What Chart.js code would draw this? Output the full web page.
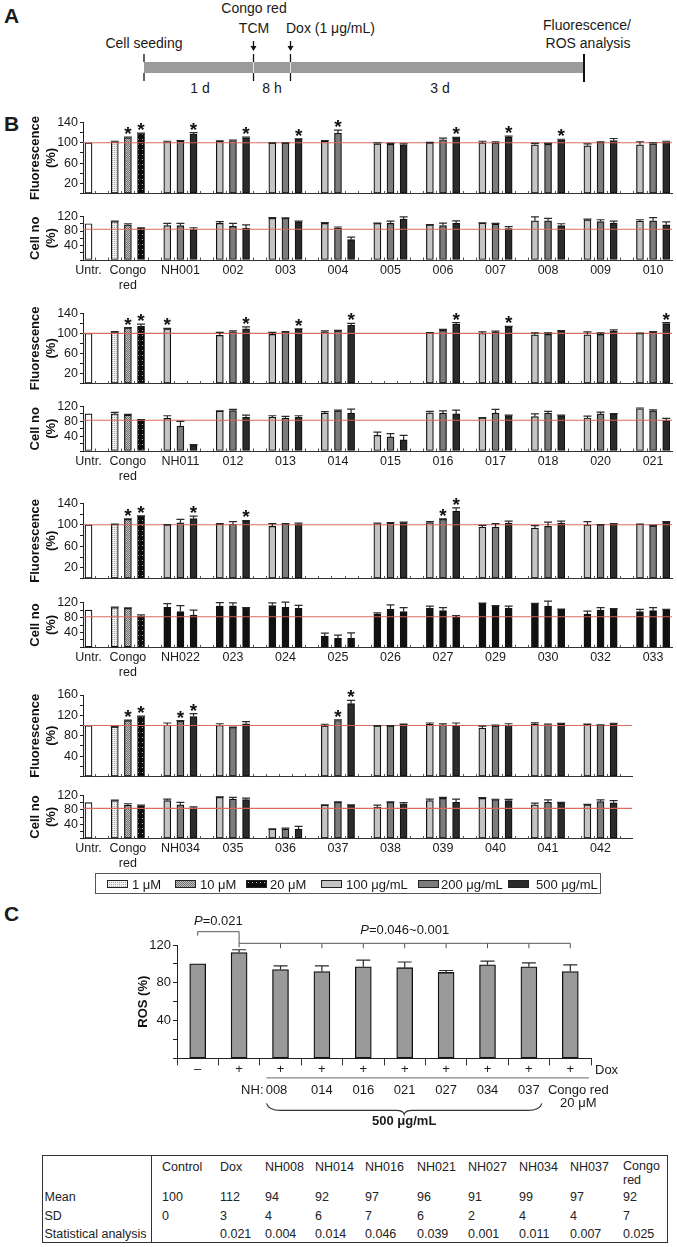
<!DOCTYPE html>
<html><head><meta charset="utf-8">
<script src="https://cdn.jsdelivr.net/npm/chart.js@4.4.1/dist/chart.umd.min.js"></script>
<style>
html,body{margin:0;padding:0;background:#fff;}
#page{position:relative;width:677px;height:1247px;overflow:hidden;font-family:"Liberation Sans",Arial,Helvetica,sans-serif;color:#1a1a1a;}
.t{position:absolute;white-space:nowrap;line-height:1;}
.cv{position:absolute;left:0;}
.sw{position:absolute;}
</style></head><body><div id="page">
<svg width="677" height="100" style="position:absolute;left:0;top:0" font-family="Liberation Sans, Arial, sans-serif" fill="#1a1a1a">
<text x="4" y="23" font-size="21" font-weight="bold">A</text>
<text x="254" y="13" font-size="14" text-anchor="middle">Congo red</text>
<text x="254" y="33" font-size="14" text-anchor="middle">TCM</text>
<text x="286" y="33" font-size="14">Dox (1 μg/mL)</text>
<text x="144" y="48" font-size="14" text-anchor="middle">Cell seeding</text>
<text x="587" y="30" font-size="14" text-anchor="middle">Fluorescence/</text>
<text x="588" y="48" font-size="14" text-anchor="middle">ROS analysis</text>
<rect x="144" y="62" width="440" height="11" fill="#9b9b9b"/>
<line x1="253.5" y1="62" x2="253.5" y2="73" stroke="#e6e6e6" stroke-width="1"/>
<line x1="290.5" y1="62" x2="290.5" y2="73" stroke="#e6e6e6" stroke-width="1"/>
<g stroke="#111" stroke-width="1.3">
<line x1="144" y1="54" x2="144" y2="62"/><line x1="144" y1="73" x2="144" y2="81"/>
<line x1="253.5" y1="54" x2="253.5" y2="62"/><line x1="253.5" y1="73" x2="253.5" y2="81"/>
<line x1="290.5" y1="54" x2="290.5" y2="62"/><line x1="290.5" y1="73" x2="290.5" y2="81"/>
<line x1="253.5" y1="41" x2="253.5" y2="47"/><line x1="290.5" y1="41" x2="290.5" y2="47"/>
</g>
<line x1="584" y1="54" x2="584" y2="82" stroke="#111" stroke-width="2"/>
<path d="M250.5 46 L256.5 46 L253.5 51 Z M287.5 46 L293.5 46 L290.5 51 Z" fill="#111"/>
<text x="200" y="93" font-size="14" text-anchor="middle">1 d</text>
<text x="272" y="93" font-size="14" text-anchor="middle">8 h</text>
<text x="440" y="93" font-size="14" text-anchor="middle">3 d</text>
</svg>
<div class="t" style="left:4px;top:113px;font-size:21px;font-weight:bold;">B</div>
<div class="t" style="left:4px;top:903px;font-size:21px;font-weight:bold;">C</div>
</div>
<script>
// ================= DATA =================
const CONGO_TAGS = ['1', '10', '20'];
const NH_TAGS = ['100', '200', '500'];
const LEGEND_LABELS = ['1 μM', '10 μM', '20 μM', '100 μg/mL', '200 μg/mL', '500 μg/mL'];

// ---- Block 1 ----
const B1_COMPOUNDS = ['NH001', '002', '003', '004', '005', '006', '007', '008', '009', '010'];
const B1_FL_UNTR = 100;
const B1_FL_CONGO = [102, 110, 118];
const B1_FL_CONGO_SD = [1, 1, 1];
const B1_FL_100 = [102, 103, 99.5, 103, 98, 100, 100, 96, 94, 96];
const B1_FL_100_SD = [1, 1, 0.5, 1.5, 2, 1, 3, 3, 4, 6];
const B1_FL_200 = [103.5, 104.5, 99.5, 119, 97, 106, 100, 97, 101, 98];
const B1_FL_200_SD = [1, 1, 0.5, 6, 2, 3, 2, 2, 1, 2];
const B1_FL_500 = [117, 110, 107, null, 96, 109.5, 111, 106, 104.5, 102];
const B1_FL_500_SD = [3, 1, 1, null, 2, 1, 2, 1, 4, 1];
const B1_FL_STARS = ['Congo red@10', 'Congo red@20', 'NH001@500', '002@500', '003@500', '004@200', '006@500', '007@500', '008@500'];
const B1_CN_UNTR = 100;
const B1_CN_CONGO = [106, 97, 88];
const B1_CN_CONGO_SD = [1, 3, 1];
const B1_CN_100 = [95, 101, 115, 101, 101, 97, 102, 108, 111, 107];
const B1_CN_100_SD = [6, 5, 2, 2, 1, 0.5, 0.5, 11, 2, 4];
const B1_CN_200 = [95, 93, 115, 88, 101, 95, 99, 108, 106, 108];
const B1_CN_200_SD = [6, 8, 1, 3, 6, 7, 2, 7, 5, 9];
const B1_CN_500 = [84, 88, 105, 56, 113, 101, 87, 95, 102, 97];
const B1_CN_500_SD = [5, 9, 2, 7, 6, 7, 5, 5, 5, 8];
const B1_CN_REF = 85;

// ---- Block 2 ----
const B2_COMPOUNDS = ['NH011', '012', '013', '014', '015', '016', '017', '018', '020', '021'];
const B2_FL_UNTR = 100;
const B2_FL_CONGO = [103, 111, 114];
const B2_FL_CONGO_SD = [0.5, 0.5, 4.5];
const B2_FL_100 = [109, 96, 98, 103, null, 101, 100, 97, 97, 100];
const B2_FL_100_SD = [1, 6, 4, 2, null, 0.5, 3, 4, 6, 0.5];
const B2_FL_200 = [null, 103, 103, 105, null, 106, 102, 98, 98, 102];
const B2_FL_200_SD = [null, 2, 0.5, 1, null, 2, 2.5, 3, 3, 1.5];
const B2_FL_500 = [null, 109, 108, 116, null, 118, 113, 104, 104, 119.5];
const B2_FL_500_SD = [null, 4, 1, 4, null, 3.5, 1, 1.5, 3, 2];
const B2_FL_STARS = ['Congo red@10', 'Congo red@20', 'NH011@100', '012@500', '013@500', '014@500', '016@500', '017@500', '021@500'];
const B2_CN_UNTR = 100;
const B2_CN_CONGO = [100, 97, 84];
const B2_CN_CONGO_SD = [4, 2, 1];
const B2_CN_100 = [88, 107.5, 91, 102, 42, 103, 89, 93, 89, 114];
const B2_CN_100_SD = [7, 1, 4, 4, 9, 4, 1, 7, 5, 2];
const B2_CN_200 = [67, 109, 88.5, 108, 38, 102, 102, 102, 100, 108];
const B2_CN_200_SD = [13, 3, 5, 2, 9, 6, 10, 5, 5, 3];
const B2_CN_500 = [15, 91, 91, 102, 30, 100, 95.5, 95.5, 100, 82];
const B2_CN_500_SD = [2, 6, 4, 11, 12, 10, 1, 1, 1, 6];
const B2_CN_REF = 83;

// ---- Block 3 ----
const B3_COMPOUNDS = ['NH022', '023', '024', '025', '026', '027', '029', '030', '032', '033'];
const B3_FL_UNTR = 100;
const B3_FL_CONGO = [101, 110, 116];
const B3_FL_CONGO_SD = [0.5, 1, 0.5];
const B3_FL_100 = [100, 101, 97, null, 102, 104, 95.5, 94, 100, 101];
const B3_FL_100_SD = [0.5, 1, 5, null, 1, 2, 3.5, 4.5, 6, 0.5];
const B3_FL_200 = [103.5, 101, 101, null, 103, 110, 95.5, 97, 100, 98];
const B3_FL_200_SD = [6.5, 5, 1, null, 1, 1, 6.5, 8, 0.5, 1];
const B3_FL_500 = [111.5, 107, 101, null, 104, 125.5, 103, 103, 101, 105];
const B3_FL_500_SD = [4.5, 1, 2, null, 1, 6, 4, 4, 1, 1];
const B3_FL_STARS = ['Congo red@10', 'Congo red@20', 'NH022@500', '023@500', '027@200', '027@500'];
const B3_CN_UNTR = 100;
const B3_CN_CONGO = [107, 105, 84];
const B3_CN_CONGO_SD = [1, 1, 3.5];
const B3_CN_100 = [107.5, 111, 112.5, 30, 89.5, 105, 118, 116, 89.5, 96];
const B3_CN_100_SD = [10, 9, 7, 8, 3, 6, 1, 2, 8, 6];
const B3_CN_200 = [96, 111.5, 107.5, 24, 102, 99, 111, 111, 100, 98.5];
const B3_CN_200_SD = [16, 8, 14, 9, 12, 8, 1, 13, 7, 8];
const B3_CN_500 = [87, 105, 105, 24, 96, 80.6, 105, 102, 102, 100];
const B3_CN_500_SD = [13, 2, 8, 15, 11, 5, 6, 1, 2, 2];
const B3_CN_REF = 82;

// ---- Block 4 ----
const B4_COMPOUNDS = ['NH034', '035', '036', '037', '038', '039', '040', '041', '042'];
const B4_FL_UNTR = 100;
const B4_FL_CONGO = [97.6, 109.6, 117.6];
const B4_FL_CONGO_SD = [0.5, 1, 1];
const B4_FL_100 = [101, 100.6, null, 99.6, 99.5, 102.4, 95, 102.4, 102.4];
const B4_FL_100_SD = [4, 3, null, 3, 0.5, 2.6, 4, 3, 0.5];
const B4_FL_200 = [108.5, 96.4, null, 110, 99.5, 101, 99.6, 101, 101];
const B4_FL_200_SD = [1, 0.5, null, 1, 0.5, 2.5, 1.5, 2, 0.5];
const B4_FL_500 = [117.6, 103.6, null, 143, 102.4, 100.6, 100.6, 102.4, 104];
const B4_FL_500_SD = [6, 4, null, 6.5, 0.5, 4.4, 3, 2, 0.5];
const B4_FL_STARS = ['Congo red@10', 'Congo red@20', 'NH034@200', 'NH034@500', '037@200', '037@500'];
const B4_CN_UNTR = 100;
const B4_CN_CONGO = [106, 93, 91];
const B4_CN_CONGO_SD = [1, 4, 2];
const B4_CN_100 = [106, 115, 26, 93, 88, 106, 112, 94, 94];
const B4_CN_100_SD = [4, 1, 1, 1, 5, 4, 2, 5, 1];
const B4_CN_200 = [94, 110, 26, 101, 101, 112, 108.5, 101, 103];
const B4_CN_200_SD = [7, 5, 3, 1, 1, 3, 1, 7, 5];
const B4_CN_500 = [85.5, 108.5, 26, 93, 97, 101, 106, 99.6, 99.6];
const B4_CN_500_SD = [3, 4, 8, 1, 3, 9, 3, 1, 6];
const B4_CN_REF = 84;

// ---- Panel C ----
const ROS_GROUPS = ['Control', 'Dox', 'NH008', 'NH014', 'NH016', 'NH021', 'NH027', 'NH034', 'NH037', 'Congo red'];
const ROS_DOX = ['–', '+', '+', '+', '+', '+', '+', '+', '+', '+'];
const ROS_NH = ['', '', '008', '014', '016', '021', '027', '034', '037', ''];
const ROS_MEAN = [100, 112, 94, 92, 97, 96, 91, 99, 97, 92];
const ROS_SD = [0, 3, 4, 6, 7, 6, 2, 4, 4, 7];
const ROS_P = ['', '0.021', '0.004', '0.014', '0.046', '0.039', '0.001', '0.011', '0.007', '0.025'];
const ROS_Y_TICKS = [0, 20, 40, 60, 80, 100, 120];
const ROS_Y_LABELS = [40, 80, 120];

// ================= LAYOUT =================
const page = document.getElementById('page');
const FONT = '"Liberation Sans", Arial, sans-serif';
Chart.defaults.font.family = FONT;
Chart.defaults.font.size = 12.5;
Chart.defaults.color = '#1a1a1a';
Chart.defaults.animation = false;

function makePattern(kind) {
  const c = document.createElement('canvas');
  const g = c.getContext('2d');
  if (kind === 0) {
    c.width = 2; c.height = 2;
    g.fillStyle = '#f2f2f2'; g.fillRect(0, 0, 2, 2);
    g.fillStyle = '#a8a8a8'; g.fillRect(0, 0, 1, 1);
  } else if (kind === 1) {
    c.width = 2; c.height = 2;
    g.fillStyle = '#6e6e6e'; g.fillRect(0, 0, 2, 2);
    g.fillStyle = '#c4c4c4'; g.fillRect(0, 0, 1, 1); g.fillRect(1, 1, 1, 1);
  } else {
    c.width = 4; c.height = 5;
    g.fillStyle = '#0c0c0c'; g.fillRect(0, 0, 4, 5);
    g.fillStyle = '#bdbdbd'; g.fillRect(2, 2, 1, 1);
  }
  return g.createPattern(c, 'repeat');
}
const PATTERNS = [makePattern(0), makePattern(1), makePattern(2)];
const NH_COLORS = ['#c4c4c4', '#7c7c7c', '#2b2b2b'];
const NH_COLORS_BLACK = ['#111111', '#111111', '#111111'];

const annot = {
  id: 'annot',
  afterDatasetsDraw(chart, args, o) {
    const { ctx, chartArea: ca, scales } = chart;
    const x = scales.x, y = scales.y;
    ctx.save();
    if (o.slotTicks) {
      ctx.strokeStyle = '#555'; ctx.lineWidth = 1;
      for (let s = 0.5; s < x.max; s += 1) {
        const px = Math.round(x.getPixelForValue(s)) + 0.5;
        ctx.beginPath(); ctx.moveTo(px, ca.bottom); ctx.lineTo(px, ca.bottom - 2.5); ctx.stroke();
      }
    }
    if (o.refLine != null) {
      const py = y.getPixelForValue(o.refLine);
      ctx.strokeStyle = 'rgba(216,100,88,0.95)'; ctx.lineWidth = 1.1;
      ctx.beginPath(); ctx.moveTo(ca.left, py); ctx.lineTo(ca.right, py); ctx.stroke();
    }
    chart.data.datasets.forEach((ds, di) => {
      const meta = chart.getDatasetMeta(di);
      meta.data.forEach((el, i) => {
        const raw = ds.data[i];
        const v = (raw !== null && typeof raw === 'object') ? raw.y : raw;
        if (v == null) return;
        const sd = ds.sd ? (ds.sd[i] || 0) : 0;
        const top = y.getPixelForValue(v + sd);
        const cx = el.x;
        const cap = o.capHalf || 4;
        if (sd > 0) {
          ctx.strokeStyle = '#2a2a2a'; ctx.lineWidth = 1.2;
          ctx.beginPath(); ctx.moveTo(cx, el.y); ctx.lineTo(cx, top);
          ctx.moveTo(cx - cap, top); ctx.lineTo(cx + cap, top); ctx.stroke();
        }
        if (ds.stars && ds.stars[i]) {
          ctx.fillStyle = '#111';
          ctx.font = 'bold 19px ' + FONT;
          ctx.textAlign = 'center'; ctx.textBaseline = 'alphabetic';
          const m = ctx.measureText('*');
          const d = -m.actualBoundingBoxDescent;
          ctx.fillText('*', cx, top - 3 + d);
        }
      });
    });
    ctx.restore();
  }
};
Chart.register(annot);

function addCanvas(top, h) {
  const cv = document.createElement('canvas');
  cv.className = 'cv';
  cv.width = 677; cv.height = h;
  cv.style.top = top + 'px'; cv.style.width = '677px'; cv.style.height = h + 'px';
  page.appendChild(cv);
  return cv;
}

function makeSets(untr, congo, congoSd, vals, sds, stars, colors, compounds) {
  const has = (g, t) => stars.includes(g + '@' + t);
  const sets = [{ data: [{ x: 0, y: untr }], sd: [0], stars: [false], backgroundColor: '#ffffff' }];
  congo.forEach((v, k) => sets.push({
    data: [{ x: 2 + k, y: v }], sd: [congoSd[k]], stars: [has('Congo red', CONGO_TAGS[k])], backgroundColor: PATTERNS[k]
  }));
  for (let k = 0; k < 3; k++) {
    sets.push({
      data: compounds.map((c, i) => ({ x: 4 * (i + 2) - 2 + k, y: vals[k][i] })),
      sd: sds[k], stars: compounds.map(c => has(c, NH_TAGS[k])), backgroundColor: colors[k]
    });
  }
  return sets;
}

function blockChart(opt) {
  const canvasTop = Math.floor(opt.plotTop - opt.padTop);
  const padTop = opt.plotTop - canvasTop;
  const plotH = opt.plotBot - opt.plotTop;
  const canvasH = Math.ceil(padTop + plotH + opt.below);
  const xH = canvasH - padTop - plotH - opt.padBottom;
  const cv = addCanvas(canvasTop, canvasH);
  const centers = [0, 3].concat(opt.compounds.map((c, i) => 4 * (i + 2) - 1));
  const labels = ['Untr.', ['Congo', 'red']].concat(opt.compounds);
  return new Chart(cv, {
    type: 'bar',
    data: { datasets: opt.datasets },
    options: {
      responsive: false, devicePixelRatio: 1, animation: false,
      layout: { padding: { top: padTop, left: 0, right: 677 - opt.right, bottom: opt.padBottom } },
      plugins: { legend: { display: false }, tooltip: { enabled: false }, annot: { refLine: opt.ref, slotTicks: true, capHalf: 4 } },
      datasets: { bar: { barThickness: 7, grouped: false, borderWidth: 1.2, borderColor: '#111', borderSkipped: false } },
      scales: {
        x: {
          type: 'linear', min: -0.42, max: opt.xMax, offset: false, bounds: 'data',
          grid: { display: false, drawTicks: false, offset: false },
          border: { display: true, color: '#333', width: 1 },
          ticks: {
            display: opt.showLabels, autoSkip: false, maxRotation: 0, minRotation: 0, padding: 3,
            font: { size: 12.5 }, color: '#1a1a1a',
            callback: (v, i) => labels[i]
          },
          afterBuildTicks: s => { s.ticks = centers.map(v => ({ value: v })); },
          afterFit: s => { s.height = xH; s.paddingLeft = 0; s.paddingRight = 0; }
        },
        y: {
          min: 0, max: opt.yMax,
          grid: { display: true, drawOnChartArea: false, drawTicks: true, tickLength: 3, color: '#222' },
          border: { display: true, color: '#222', width: 1 },
          ticks: {
            autoSkip: false, padding: 2, font: { size: 12.5 }, color: '#1a1a1a',
            callback: v => (opt.yLabels.includes(v) ? String(v) : '')
          },
          afterBuildTicks: s => { s.ticks = opt.yTicks.map(v => ({ value: v })); },
          title: { display: true, text: opt.title, font: { size: 13, weight: 'bold' }, color: '#111', padding: { top: 27.7, bottom: 0 } },
          afterFit: s => { s.width = 83; }
        }
      }
    }
  });
}

const BLOCKS = [
  { comp: B1_COMPOUNDS, fTop: 122.5, fBot: 200, fMax: 140, cTop: 216, cBot: 260, xMax: 44.44, right: 672,
    fl: [B1_FL_UNTR, B1_FL_CONGO, B1_FL_CONGO_SD, [B1_FL_100, B1_FL_200, B1_FL_500], [B1_FL_100_SD, B1_FL_200_SD, B1_FL_500_SD], B1_FL_STARS],
    cn: [B1_CN_UNTR, B1_CN_CONGO, B1_CN_CONGO_SD, [B1_CN_100, B1_CN_200, B1_CN_500], [B1_CN_100_SD, B1_CN_200_SD, B1_CN_500_SD], []],
    cref: B1_CN_REF, cnColors: NH_COLORS },
  { comp: B2_COMPOUNDS, fTop: 313.3, fBot: 389.5, fMax: 140, cTop: 406.5, cBot: 451, xMax: 44.44, right: 672,
    fl: [B2_FL_UNTR, B2_FL_CONGO, B2_FL_CONGO_SD, [B2_FL_100, B2_FL_200, B2_FL_500], [B2_FL_100_SD, B2_FL_200_SD, B2_FL_500_SD], B2_FL_STARS],
    cn: [B2_CN_UNTR, B2_CN_CONGO, B2_CN_CONGO_SD, [B2_CN_100, B2_CN_200, B2_CN_500], [B2_CN_100_SD, B2_CN_200_SD, B2_CN_500_SD], []],
    cref: B2_CN_REF, cnColors: NH_COLORS },
  { comp: B3_COMPOUNDS, fTop: 503.3, fBot: 585, fMax: 140, cTop: 602.7, cBot: 647.3, xMax: 44.44, right: 672,
    fl: [B3_FL_UNTR, B3_FL_CONGO, B3_FL_CONGO_SD, [B3_FL_100, B3_FL_200, B3_FL_500], [B3_FL_100_SD, B3_FL_200_SD, B3_FL_500_SD], B3_FL_STARS],
    cn: [B3_CN_UNTR, B3_CN_CONGO, B3_CN_CONGO_SD, [B3_CN_100, B3_CN_200, B3_CN_500], [B3_CN_100_SD, B3_CN_200_SD, B3_CN_500_SD], []],
    cref: B3_CN_REF, cnColors: NH_COLORS_BLACK },
  { comp: B4_COMPOUNDS, fTop: 695, fBot: 783, fMax: 160, cTop: 795, cBot: 838.5, xMax: 41.4, right: 632,
    fl: [B4_FL_UNTR, B4_FL_CONGO, B4_FL_CONGO_SD, [B4_FL_100, B4_FL_200, B4_FL_500], [B4_FL_100_SD, B4_FL_200_SD, B4_FL_500_SD], B4_FL_STARS],
    cn: [B4_CN_UNTR, B4_CN_CONGO, B4_CN_CONGO_SD, [B4_CN_100, B4_CN_200, B4_CN_500], [B4_CN_100_SD, B4_CN_200_SD, B4_CN_500_SD], []],
    cref: B4_CN_REF, cnColors: NH_COLORS }
];

BLOCKS.forEach(b => {
  const fMax = b.fMax;
  const fTicks = []; for (let v = 0; v <= fMax; v += 20) fTicks.push(v);
  const fLabels = fMax === 160 ? [40, 80, 120, 160] : [20, 60, 100, 140];
  blockChart({
    plotTop: b.fTop, plotBot: b.fBot, padTop: 20, padBottom: 2, below: 3, right: b.right, xMax: b.xMax,
    yMax: fMax, yTicks: fTicks, yLabels: fLabels, title: ['Fluorescence', '(%)'], compounds: b.comp,
    showLabels: false, ref: 100,
    datasets: makeSets(b.fl[0], b.fl[1], b.fl[2], b.fl[3], b.fl[4], b.fl[5], NH_COLORS, b.comp)
  });
  blockChart({
    plotTop: b.cTop, plotBot: b.cBot, padTop: 9, padBottom: 0, below: 36, right: b.right, xMax: b.xMax,
    yMax: 120, yTicks: [0, 20, 40, 60, 80, 100, 120], yLabels: [40, 80, 120], title: ['Cell no', '(%)'], compounds: b.comp,
    showLabels: true, ref: b.cref,
    datasets: makeSets(b.cn[0], b.cn[1], b.cn[2], b.cn[3], b.cn[4], b.cn[5], b.cnColors, b.comp)
  });
});

// ---- Legend ----
(function () {
  const box = document.createElement('div');
  box.style.cssText = 'position:absolute;left:94.5px;top:873px;width:506px;height:21px;border:1px solid #555;box-sizing:border-box;';
  page.appendChild(box);
  const swX = [107, 175, 246, 321, 418, 508];
  const txX = [132, 200, 270, 346, 441, 536];
  LEGEND_LABELS.forEach((lab, i) => {
    const c = document.createElement('canvas');
    c.width = 21; c.height = 8; c.className = 'sw';
    c.style.left = swX[i] + 'px'; c.style.top = '879.5px';
    const g = c.getContext('2d');
    g.fillStyle = i < 3 ? PATTERNS[i] : NH_COLORS[i - 3];
    g.fillRect(0, 0, 21, 8);
    g.strokeStyle = '#222'; g.lineWidth = 1; g.strokeRect(0.5, 0.5, 20, 7);
    page.appendChild(c);
    const t = document.createElement('div');
    t.className = 't'; t.textContent = lab;
    t.style.cssText += 'left:' + txX[i] + 'px;top:877.5px;font-size:13px;';
    page.appendChild(t);
  });
})();

// ---- Panel C ----
const rosExtras = {
  id: 'rosExtras',
  afterDraw(chart) {
    const { ctx, chartArea: ca, scales: { x } } = chart;
    const cx = i => x.getPixelForValue(i);
    const last = ROS_GROUPS.length - 1;
    ctx.save();
    ctx.fillStyle = '#1a1a1a'; ctx.strokeStyle = '#333'; ctx.lineWidth = 1;
    ctx.font = '13px ' + FONT; ctx.textBaseline = 'middle'; ctx.textAlign = 'center';
    ROS_DOX.forEach((s, i) => ctx.fillText(s, cx(i), ca.bottom + 11));
    ctx.textAlign = 'left'; ctx.fillText('Dox', 595, ca.bottom + 12);
    // line under the "+" row
    ctx.strokeStyle = '#666'; ctx.lineWidth = 1;
    ctx.beginPath(); ctx.moveTo(cx(2) - 14, ca.bottom + 19.5); ctx.lineTo(ca.right - 2, ca.bottom + 19.5); ctx.stroke();
    ctx.textAlign = 'center';
    ROS_NH.forEach((s, i) => { if (s) ctx.fillText(s, cx(i) - (i === 2 ? 4 : 0), ca.bottom + 32); });
    ctx.textAlign = 'right'; ctx.fillText('NH:', cx(2) - 17, ca.bottom + 32);
    ctx.textAlign = 'center';
    ctx.fillText('Congo red', cx(last) + 8, ca.bottom + 32);
    ctx.fillText('20 μM', cx(last) + 8, ca.bottom + 45);
    // brace
    const x0 = cx(2) - 14, x1 = cx(8) + 13, xm = (x0 + x1) / 2, yb = ca.bottom + 45;
    ctx.strokeStyle = '#333'; ctx.lineWidth = 1.1;
    ctx.beginPath();
    ctx.moveTo(x0, yb);
    ctx.quadraticCurveTo(x0 + 2, yb + 7, x0 + 14, yb + 7);
    ctx.lineTo(xm - 8, yb + 7);
    ctx.quadraticCurveTo(xm - 1, yb + 7, xm, yb + 11);
    ctx.quadraticCurveTo(xm + 1, yb + 7, xm + 8, yb + 7);
    ctx.lineTo(x1 - 14, yb + 7);
    ctx.quadraticCurveTo(x1 - 2, yb + 7, x1, yb);
    ctx.stroke();
    ctx.font = 'bold 13px ' + FONT;
    ctx.fillText('500 μg/mL', xm, ca.bottom + 63);
    // brackets
    const yB1 = ca.top - 13.3, yB2 = ca.top - 1.7;
    ctx.strokeStyle = '#555'; ctx.lineWidth = 1;
    ctx.beginPath();
    ctx.moveTo(cx(0), yB1 + 4); ctx.lineTo(cx(0), yB1); ctx.lineTo(cx(1), yB1); ctx.lineTo(cx(1), yB2 + 4);
    ctx.moveTo(cx(1), yB2); ctx.lineTo(cx(last), yB2);
    for (let i = 2; i <= last; i++) { ctx.moveTo(cx(i), yB2); ctx.lineTo(cx(i), yB2 + 5); }
    ctx.stroke();
    function pText(str, xc, yc) {
      ctx.font = 'italic 13px ' + FONT; const w1 = ctx.measureText('P').width;
      ctx.font = '13px ' + FONT; const w2 = ctx.measureText(str).width;
      const xs = xc - (w1 + w2) / 2;
      ctx.textAlign = 'left';
      ctx.font = 'italic 13px ' + FONT; ctx.fillText('P', xs, yc);
      ctx.font = '13px ' + FONT; ctx.fillText(str, xs + w1, yc);
      ctx.textAlign = 'center';
    }
    pText('=' + ROS_P[1], (cx(0) + cx(1)) / 2, ca.top - 23.3);
    pText('=0.046~0.001', (cx(1) + cx(last)) / 2, ca.top - 15);
    ctx.restore();
  }
};

(function () {
  const plotTop = 945, plotBot = 1058.4, canvasTop = 900, canvasH = 232;
  const padTop = plotTop - canvasTop;
  const xH = canvasH - padTop - (plotBot - plotTop);
  const cv = addCanvas(canvasTop, canvasH);
  new Chart(cv, {
    type: 'bar',
    data: { labels: ROS_GROUPS, datasets: [{ data: ROS_MEAN, sd: ROS_SD, backgroundColor: '#9a9a9a', borderColor: '#111', borderWidth: 1.3, barThickness: 16, borderSkipped: false }] },
    options: {
      responsive: false, devicePixelRatio: 1, animation: false,
      layout: { padding: { top: padTop, left: 0, right: 677 - 591, bottom: 0 } },
      plugins: { legend: { display: false }, tooltip: { enabled: false }, annot: { capHalf: 7 } },
      scales: {
        x: {
          grid: { display: true, drawOnChartArea: false, drawTicks: true, tickLength: 7, color: '#333', offset: true },
          border: { display: true, color: '#222', width: 1 },
          ticks: { display: false },
          afterFit: s => { s.height = xH; }
        },
        y: {
          min: 0, max: 120,
          grid: { display: true, drawOnChartArea: false, drawTicks: true, tickLength: 4, color: '#222' },
          border: { display: true, color: '#222', width: 1 },
          ticks: { autoSkip: false, padding: 2, font: { size: 13 }, color: '#1a1a1a', callback: v => (ROS_Y_LABELS.includes(v) ? String(v) : '') },
          afterBuildTicks: s => { s.ticks = ROS_Y_TICKS.map(v => ({ value: v })); },
          title: { display: true, text: 'ROS (%)', font: { size: 13, weight: 'bold' }, color: '#111', padding: { top: 136, bottom: 0 } },
          afterFit: s => { s.width = 177; }
        }
      }
    },
    plugins: [rosExtras]
  });
})();

// ---- Table ----
(function () {
  const T = { left: 41.5, right: 668, top: 1155, bottom: 1243, split: 151 };
  const box = document.createElement('div');
  box.style.cssText = 'position:absolute;left:' + T.left + 'px;top:' + T.top + 'px;width:' + (T.right - T.left) + 'px;height:' + (T.bottom - T.top) + 'px;border:1.3px solid #333;box-sizing:border-box;';
  page.appendChild(box);
  const vl = document.createElement('div');
  vl.style.cssText = 'position:absolute;left:' + T.split + 'px;top:' + T.top + 'px;width:1px;height:' + (T.bottom - T.top) + 'px;background:#333;';
  page.appendChild(vl);
  const colX = [162, 220, 265, 315, 365, 417, 468, 519, 570, 623];
  const rowY = { head: 1168, mean: 1198, sd: 1217, p: 1235 };
  function put(txt, x, y) {
    const d = document.createElement('div');
    d.className = 't'; d.textContent = txt;
    d.style.cssText += 'left:' + x + 'px;top:' + (y - 7) + 'px;font-size:12.5px;color:#222;';
    page.appendChild(d);
  }
  ROS_GROUPS.forEach((g, i) => {
    if (g === 'Congo red') { put('Congo', colX[i], rowY.head - 1); put('red', colX[i], rowY.head + 13); }
    else put(g, colX[i], rowY.head);
    put(String(ROS_MEAN[i]), colX[i], rowY.mean);
    put(String(ROS_SD[i]), colX[i], rowY.sd);
    if (ROS_P[i]) put(ROS_P[i], colX[i], rowY.p);
  });
  put('Mean', T.left + 3, rowY.mean);
  put('SD', T.left + 3, rowY.sd);
  put('Statistical analysis', T.left + 3, rowY.p);
})();
</script></body></html>
